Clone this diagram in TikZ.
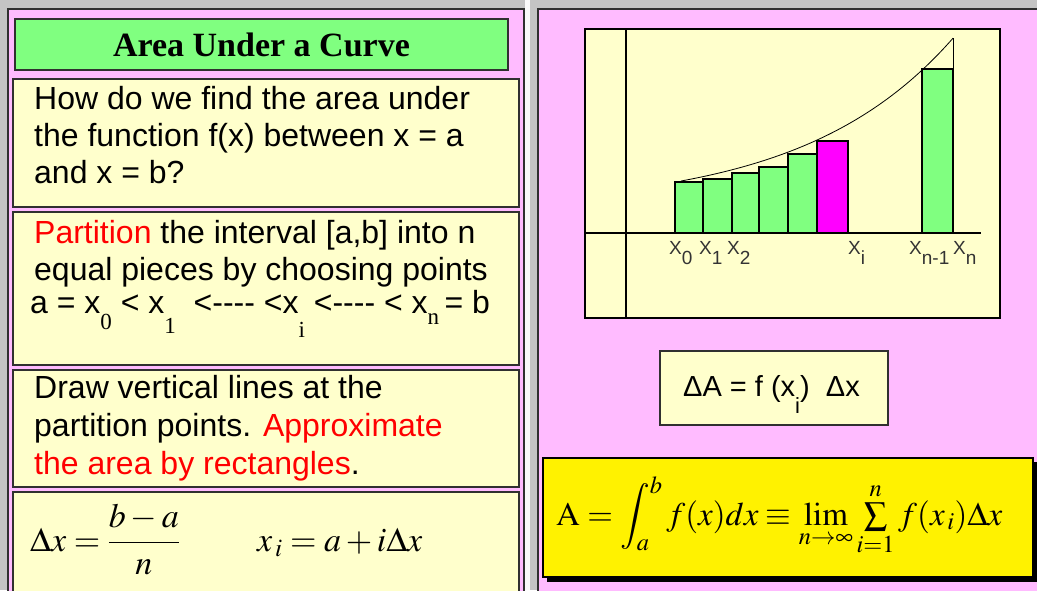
\documentclass[tikz,border=0pt]{standalone}
\usepackage{mathptmx}
\usepackage[no-math]{fontspec}
\setmainfont{Liberation Sans}
\newfontfamily\tnr{Liberation Serif}
\definecolor{pinkbg}{HTML}{FFBBFF}
\definecolor{lyellow}{HTML}{FFFFCC}
\definecolor{lgreen}{HTML}{80FF80}
\definecolor{mag}{HTML}{FF00FF}
\definecolor{bord}{HTML}{303030}
\definecolor{graybg}{HTML}{C4C4C4}
\definecolor{lblcol}{HTML}{333333}
\newcommand{\lsub}[2]{\raisebox{-#1pt}{\tnr\fontsize{23}{23}\selectfont #2}}
\newcommand{\dsh}{-{}-{}-{}-}
\tikzset{
 panel/.style={fill=pinkbg, draw=bord, line width=1.5pt},
 ybox/.style={fill=lyellow, draw=bord, line width=2pt},
 titlebox/.style={fill=lgreen, draw=bord, line width=2pt, inner sep=0pt},
 bar/.style={fill=lgreen, draw=black, line width=1.2pt},
 body/.style={anchor=base west, inner sep=0pt, font=\fontsize{32}{37}\selectfont},
 lbl/.style={anchor=base west, inner sep=0pt, font=\fontsize{19}{22}\selectfont, text=lblcol},
 mth/.style={anchor=base west, inner sep=0pt},
}
\begin{document}
\begin{tikzpicture}[x=1pt,y=-1pt]
\useasboundingbox (0,0) rectangle (1037,590);
\fill[graybg] (0,0) rectangle (1037,590);
\fill[white!92!graybg] (525,0) rectangle (530,590);
% left panel
\draw[panel] (8,9) rectangle (524,600);
\node[titlebox, minimum width=493pt, minimum height=51pt] (title) at (261.5,44.5)
  {\tnr\bfseries\fontsize{34}{40}\selectfont Area Under a Curve};
\draw[ybox] (13,79) rectangle (519,207);
\draw[ybox] (13,212) rectangle (519,365);
\draw[ybox] (13,370) rectangle (519,487);
\draw[ybox] (13,492) rectangle (519,600);
\node[body] (q1) at (34,109) {How do we find the area under};
\node[body] (q2) at (34,146) {the function f(x) between x = a};
\node[body] (q3) at (34,183) {and x = b?};
\node[body] (p1) at (34,243) {\textcolor{red}{Partition} the interval [a,b] into n};
\node[body] (p2) at (34,280) {equal pieces by choosing points};
\node[body] (p3) at (30,313) {a = x\lsub{16}{0} < x\lsub{20}{1}\ \ <\dsh{} <x\lsub{24}{i} <\dsh{} < x\lsub{11}{n}\,= b};
\node[body] (d1) at (34,398) {Draw vertical lines at the};
\node[body] (d2) at (34,436) {partition points. \textcolor{red}{Approximate}};
\node[body] (d3) at (34,474) {\textcolor{red}{the area by rectangles}.};
\node[mth, font=\fontsize{34}{40}\selectfont] (f1) at (30,551) {$\displaystyle \Delta x = \frac{b-a}{n}$};
\node[mth, font=\fontsize{34}{40}\selectfont] (f2) at (257,551) {$x_{\,i} = a + i\Delta x$};
% right panel
\draw[panel] (538,9) rectangle (1045,600);
\draw[ybox, draw=black, line width=2.2pt] (585,29) rectangle (1000,318);
\draw[line width=1.2pt] (626,29) -- (626,318);
\draw[line width=1.2pt] (585,233) -- (981,233);
\foreach \a/\b/\t in {675/703/182, 703/732/179, 732/759/173, 759/788/167, 788/817/154}
  \draw[bar] (\a,233) rectangle (\b,\t);
\draw[bar, fill=mag] (817,233) rectangle (848,141);
\draw[bar] (922,233) rectangle (953,69);
\draw[line width=1pt] (953,69) -- (953,38);
\draw[line width=0.8pt] plot[domain=681:953, samples=80] (\x,{233-(27.55*exp(0.0067*(\x-681))+24.45)});
\node[lbl] (x0) at (669,254) {X\raisebox{-10pt}{0}};
\node[lbl] (x1) at (699,254) {X\raisebox{-10pt}{1}};
\node[lbl] (x2) at (727,254) {X\raisebox{-10pt}{2}};
\node[lbl] (xi) at (848,254) {X\raisebox{-10pt}{i}};
\node[lbl] (xn1) at (909,254) {X\raisebox{-10pt}{n-1}};
\node[lbl] (xn) at (953,254) {X\raisebox{-10pt}{n}};
% delta A box
\draw[ybox, line width=1.5pt] (660,351) rectangle (888,425);
\node[mth, font=\fontsize{29}{34}\selectfont] (dA) at (683,396)
  {ΔA = f (x\raisebox{-17pt}{\fontsize{22}{22}\selectfont i})\ \ Δx};
% integral box
\fill[black] (547,462) rectangle (1037,582);
\draw[fill=yellow, draw=black, line width=1.5pt] (543,458) rectangle (1033,577);
\node[mth, font=\fontsize{33}{40}\selectfont] (A) at (556,525)
  {$\mathrm{A}=\displaystyle\int_a^b f(x)dx \equiv \lim_{n\to\infty}\textstyle\sum\limits_{i=1}^{n} f(x_{\,i})\Delta x$};
\end{tikzpicture}
\end{document}
